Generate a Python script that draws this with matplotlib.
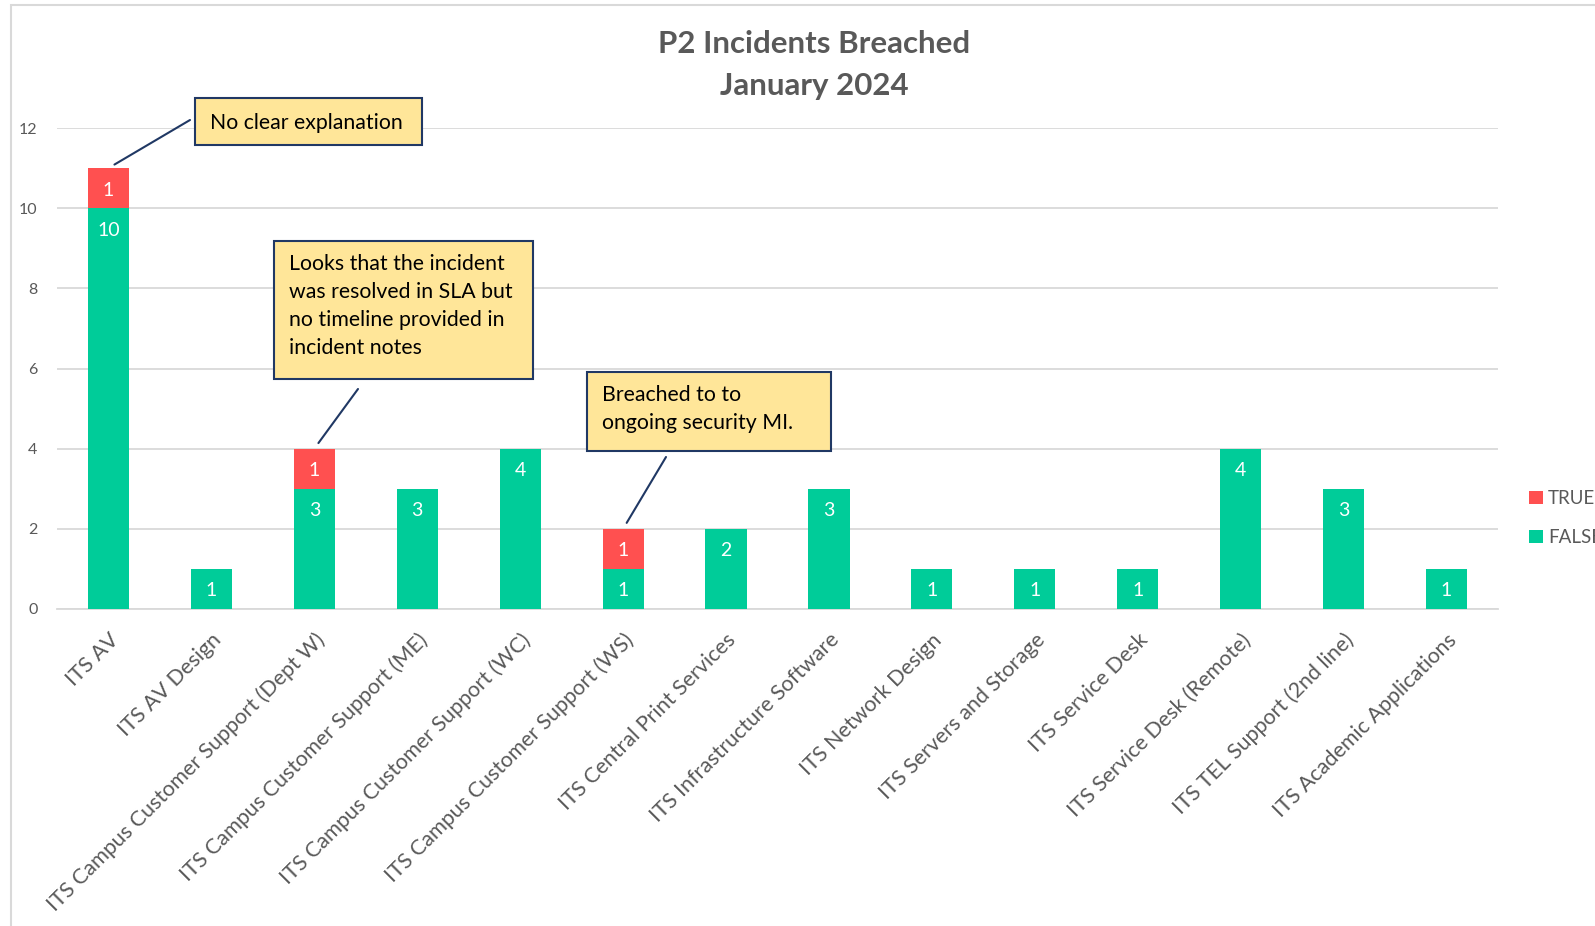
import matplotlib.pyplot as plt
from matplotlib.patches import Rectangle

plt.rcParams['font.family'] = ['Lato', 'DejaVu Sans']

teams = [
    "ITS AV", "ITS AV Design", "ITS Campus Customer Support (Dept W)",
    "ITS Campus Customer Support (ME)", "ITS Campus Customer Support (WC)",
    "ITS Campus Customer Support (WS)", "ITS Central Print Services",
    "ITS Infrastructure Software", "ITS Network Design",
    "ITS Servers and Storage", "ITS Service Desk", "ITS Service Desk (Remote)",
    "ITS TEL Support (2nd line)", "ITS Academic Applications",
]
breached_false = [10, 1, 3, 3, 4, 1, 2, 3, 1, 1, 1, 4, 3, 1]
breached_true = [1, 0, 1, 0, 0, 1, 0, 0, 0, 0, 0, 0, 0, 0]

notes = [
    (0, "No clear explanation"),
    (2, "Looks that the incident\nwas resolved in SLA but\nno timeline provided in\nincident notes"),
    (5, "Breached to to\nongoing security MI."),
]

GREEN = "#00CC99"
RED = "#FF5050"
GREY = "#595959"
GRID = "#D9D9D9"
NAVY = "#203864"
NOTE_FILL = "#FFE699"

W, H = 1595, 926
fig = plt.figure(figsize=(W / 100, H / 100), dpi=100)
ax = fig.add_axes([57 / W, 1 - 609 / H, (1498 - 57) / W, (609 - 128) / H])

# chart frame, runs off the right and bottom edges
fig.patches.append(Rectangle((11 / W, -0.1), 1.2, 1 - 5 / H + 0.1,
                             transform=fig.transFigure, fill=False,
                             edgecolor=GRID, lw=1.5))

x = list(range(len(teams)))
totals = [f + t for f, t in zip(breached_false, breached_true)]
bf = ax.bar(x, breached_false, width=0.4, color=GREEN, label="FALSE", zorder=3)
bt = ax.bar(x, breached_true, width=0.4, bottom=breached_false, color=RED,
            label="TRUE", zorder=3)

# value labels just inside the top of each segment
for i in x:
    if breached_false[i]:
        ax.annotate(str(breached_false[i]), (i, breached_false[i]),
                    xytext=(0, -22), textcoords="offset pixels",
                    ha="center", va="center", color="white", fontsize=14, zorder=4)
    if breached_true[i]:
        ax.annotate(str(breached_true[i]), (i, totals[i]),
                    xytext=(0, -22), textcoords="offset pixels",
                    ha="center", va="center", color="white", fontsize=14, zorder=4)

ax.set_xlim(-0.5, len(teams) - 0.5)
ax.set_ylim(0, 12)
ax.set_yticks(range(0, 13, 2))
ax.yaxis.grid(True, color=GRID, lw=1.3, zorder=0)
for s in ["top", "right", "left"]:
    ax.spines[s].set_visible(False)
ax.spines["bottom"].set_color(GRID)
ax.spines["bottom"].set_linewidth(1.3)
ax.tick_params(axis="both", length=0, colors=GREY)
ax.tick_params(axis="y", labelsize=11.5, pad=14)
ax.set_xticks(x)
ax.set_xticklabels(teams, rotation=45, ha="right", rotation_mode="anchor",
                   fontsize=15.5, color=GREY)
ax.tick_params(axis="x", pad=15)

fig.text(814 / W, 1 - 44 / H, "P2 Incidents Breached", ha="center", va="center",
         fontsize=22.5, fontweight="bold", color=GREY)
fig.text(814 / W, 1 - 86 / H, "January 2024", ha="center", va="center",
         fontsize=22.5, fontweight="bold", color=GREY)

# callout boxes: (left, top, right, bottom), text centre y, leader line start (pixels)
boxes = [
    ((195, 98, 422, 145), 123, (190, 120)),
    ((274, 241, 533, 379), 306, (358, 389)),
    ((587, 372, 831, 451), 409, (666, 457)),
]
for (idx, txt), ((l, t, r, b), ty, (lx, ly)) in zip(notes, boxes):
    fig.patches.append(Rectangle((l / W, 1 - b / H), (r - l) / W, (b - t) / H,
                                 transform=fig.transFigure, facecolor=NOTE_FILL,
                                 edgecolor=NAVY, lw=1.5, zorder=5))
    fig.text((l + 15) / W, 1 - ty / H, txt, ha="left", va="center",
             fontsize=15.3, color="black", linespacing=1.48, zorder=6)
    ax.annotate("", xy=(idx, totals[idx]), xytext=(lx, H - ly),
                textcoords="figure pixels",
                arrowprops=dict(arrowstyle="-", color=NAVY, lw=1.5,
                                shrinkA=0, shrinkB=5))

fig.legend([bt, bf], ["TRUE", "FALSE"], loc="center left",
           bbox_to_anchor=(1520 / W, 1 - 518 / H), frameon=False,
           fontsize=13.5, handlelength=0.7, handleheight=0.7, handletextpad=0.3,
           labelspacing=1.15, labelcolor=GREY, borderpad=0)

fig.savefig("out.png", dpi=100)
